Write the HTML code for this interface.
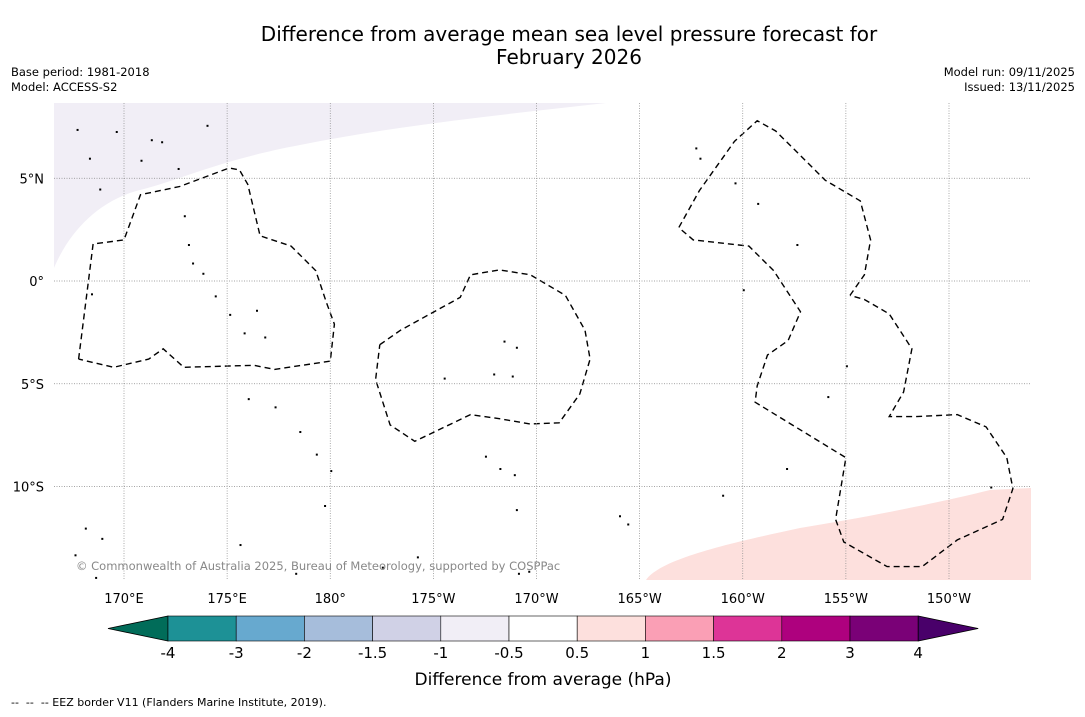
<!DOCTYPE html>
<html><head><meta charset="utf-8"><style>
body{margin:0;background:#fff;width:1085px;height:713px;overflow:hidden;font-family:"DejaVu Sans","Liberation Sans",sans-serif;}
</style></head><body>
<svg id="chart" width="1085" height="713" viewBox="0 0 1085 713" xmlns="http://www.w3.org/2000/svg" font-family="DejaVu Sans, Liberation Sans, sans-serif">
<rect width="1085" height="713" fill="#fff"/>
<text x="569" y="41" font-size="20" text-anchor="middle">Difference from average mean sea level pressure forecast for</text>
<text x="569" y="64" font-size="20" text-anchor="middle">February 2026</text>
<text x="11" y="76" font-size="11.5">Base period: 1981-2018</text>
<text x="11" y="91" font-size="11.5">Model: ACCESS-S2</text>
<text x="1075" y="76" font-size="11.5" text-anchor="end">Model run: 09/11/2025</text>
<text x="1075" y="91" font-size="11.5" text-anchor="end">Issued: 13/11/2025</text>
<g id="map"></g>
<g id="cbar"></g>
<text x="543" y="685" font-size="17" text-anchor="middle">Difference from average (hPa)</text>
<text x="11" y="706" font-size="11" xml:space="preserve">--  --  -- EEZ border V11 (Flanders Marine Institute, 2019).</text>
</svg>
<script>
const lonTicks=[170,175,180,185,190,195,200,205,210];
const lonLabels=["170°E","175°E","180°","175°W","170°W","165°W","160°W","155°W","150°W"];
const latTicks=[5,0,-5,-10];
const latLabels=["5°N","0°","5°S","10°S"];
const cbLevels=["-4","-3","-2","-1.5","-1","-0.5","0.5","1","1.5","2","3","4"];
const cbColors=["#1d9196","#67a9cf","#a6bddb","#d0d1e6","#f1eef6","#ffffff","#fde0dd","#fa9fb5","#dd3497","#ae017e","#7a0177"];
const cbUnder="#016c59", cbOver="#49006a";
// EEZ borders as [lon(E 0-360), lat]
const eez1=[[167.8,-3.8],[168.5,1.8],[170,2],[170.8,4.2],[172.7,4.6],[175.1,5.5],[175.6,5.4],[176,4.7],[176.6,2.2],[178.1,1.7],[179.3,0.5],[179.8,-1],[180.2,-2.1],[180,-3.9],[177.3,-4.3],[176.3,-4.1],[172.9,-4.2],[171.9,-3.3],[171.2,-3.8],[169.5,-4.2],[167.8,-3.8]];
const eez2=[[182.4,-3.1],[183.4,-2.4],[186.3,-0.8],[186.8,0.3],[188.2,0.54],[189.7,0.3],[191.4,-0.7],[192.35,-2.4],[192.6,-3.8],[192.1,-5.5],[191.1,-6.9],[189.7,-6.96],[188.2,-6.7],[186.8,-6.5],[184.1,-7.8],[182.9,-7],[182.2,-4.8],[182.4,-3.1]];
const eez3=[[205.2,-0.7],[205.9,0.3],[206.2,2],[205.7,3.9],[204,4.9],[202.8,6.1],[201.6,7.3],[200.7,7.8],[199.6,6.8],[197.9,4.4],[196.9,2.6],[197.6,2],[200.3,1.7],[201.5,0.5],[202.8,-1.5],[202.2,-2.9],[201.2,-3.6],[200.7,-5.1],[200.6,-5.9],[205,-8.6],[204.5,-11.6],[204.9,-12.7],[207,-13.9],[208.7,-13.9],[210.4,-12.6],[212.6,-11.6],[213.1,-10.1],[212.8,-8.6],[211.8,-7.1],[210.4,-6.5],[208.4,-6.6],[207.1,-6.6],[207.8,-5.4],[208.2,-3.3],[207.1,-1.6],[205.9,-0.9],[205.2,-0.7]];
const islands=[[168.4,-0.6],[171.3,6.9],[171.8,6.8],[172.6,5.5],[172.9,3.2],[173.1,1.8],[173.3,0.9],[173.8,0.4],[174.4,-0.7],[175.1,-1.6],[176.4,-1.4],[175.8,-2.5],[176.8,-2.7],[176,-5.7],[177.3,-6.1],[178.5,-7.3],[179.3,-8.4],[180,-9.2],[179.7,-10.9],[184.2,-13.4],[185.5,-4.7],[188.4,-2.9],[189,-3.2],[187.9,-4.5],[188.8,-4.6],[187.5,-8.5],[188.2,-9.1],[188.9,-9.4],[189,-11.1],[189.1,-14.2],[189.6,-14.1],[194,-11.4],[194.4,-11.8],[197.7,6.5],[197.9,6.0],[199.6,4.8],[200.7,3.8],[202.6,1.8],[200,-0.4],[205,-4.1],[204.1,-5.6],[202.1,-9.1],[199,-10.4],[212,-10],[182.5,-13.9],[178.3,-14.2],[168.1,-12.0],[167.7,7.4],[168.3,6.0],[169.6,7.3],[170.8,5.9],[168.6,-14.4],[168.3,-14.9],[167.6,-13.3],[168.9,-12.5],[175.6,-12.8],[168.8,4.5],[174,7.6]];
const svgNS="http://www.w3.org/2000/svg";
const X0=54,X1=1031,Y0=103,Y1=580;
function x(lon){return 124+(lon-170)*20.625;}
function y(lat){return 281-lat*20.55;}
function mk(tag,attrs,parent){const e=document.createElementNS(svgNS,tag);for(const k in attrs)e.setAttribute(k,attrs[k]);parent.appendChild(e);return e;}
const map=document.getElementById('map');
const clip=mk('clipPath',{id:'mc'},map);mk('rect',{x:X0,y:Y0,width:X1-X0,height:Y1-Y0},clip);
const g=mk('g',{'clip-path':'url(#mc)'},map);
let p=mk('path',{d:"M54,268 C70,230 100,200 140,190 C180,180 220,160 300,145 C400,125 500,115 606,103 L54,103 Z",fill:"#f1eef6"},g);


p=mk('path',{d:"M646,580 C660,560 720,545 800,528 C880,515 950,500 990,490 L1031,488 L1031,580 Z",fill:"#fde0dd"},g);


lonTicks.forEach((l,i)=>{
 const ln=mk('line',{x1:x(l),x2:x(l),y1:Y0,y2:Y1,stroke:"#888","stroke-width":0.7,"stroke-dasharray":"1,1.5"},map);
 
 
 const t=mk('text',{x:x(l),y:603,"font-size":13,"text-anchor":"middle"},map);t.textContent=lonLabels[i];
 
 
});
latTicks.forEach((l,i)=>{
 const ln=mk('line',{x1:X0,x2:X1,y1:y(l),y2:y(l),stroke:"#888","stroke-width":0.7,"stroke-dasharray":"1,1.5"},map);
 
 
 const t=mk('text',{x:44,y:y(l)+5,"font-size":13,"text-anchor":"end"},map);t.textContent=latLabels[i];
 
 
});
[eez1,eez2,eez3].forEach(arr=>{
 const d=arr.map((q,i)=>(i?"L":"M")+x(q[0]).toFixed(1)+","+y(q[1]).toFixed(1)).join(" ");
 const e=mk('path',{d:d,fill:"none",stroke:"#000","stroke-width":1.4,"stroke-dasharray":"6,4"},g);
 
 
});
islands.forEach(q=>{
 const e=mk('rect',{x:x(q[0]),y:y(q[1]),width:2,height:2,fill:"#000"},g);
 
 
});
const cp=mk('text',{x:76,y:570,"font-size":11.5,fill:"#888"},map);cp.textContent="© Commonwealth of Australia 2025, Bureau of Meteorology, supported by COSPPac";


// colorbar
const cb=document.getElementById('cbar');
const cbX0=168,cbW=68.2,cbY=616,cbH=25;
let tri=mk('polygon',{points:`108,${cbY+cbH/2} ${cbX0},${cbY} ${cbX0},${cbY+cbH}`,fill:cbUnder,stroke:"#000","stroke-width":0.8},cb);


cbColors.forEach((c,i)=>{
 const r=mk('rect',{x:cbX0+i*cbW,y:cbY,width:cbW,height:cbH,fill:c,stroke:"#000","stroke-width":0.6},cb);
 
 
});
const xe=cbX0+cbColors.length*cbW;
tri=mk('polygon',{points:`${xe},${cbY} ${xe+60},${cbY+cbH/2} ${xe},${cbY+cbH}`,fill:cbOver,stroke:"#000","stroke-width":0.8},cb);


cbLevels.forEach((lv,i)=>{
 const t=mk('text',{x:cbX0+i*cbW,y:658,"font-size":15,"text-anchor":"middle"},cb);t.textContent=lv;
 
 
});
</script>
</body></html>
